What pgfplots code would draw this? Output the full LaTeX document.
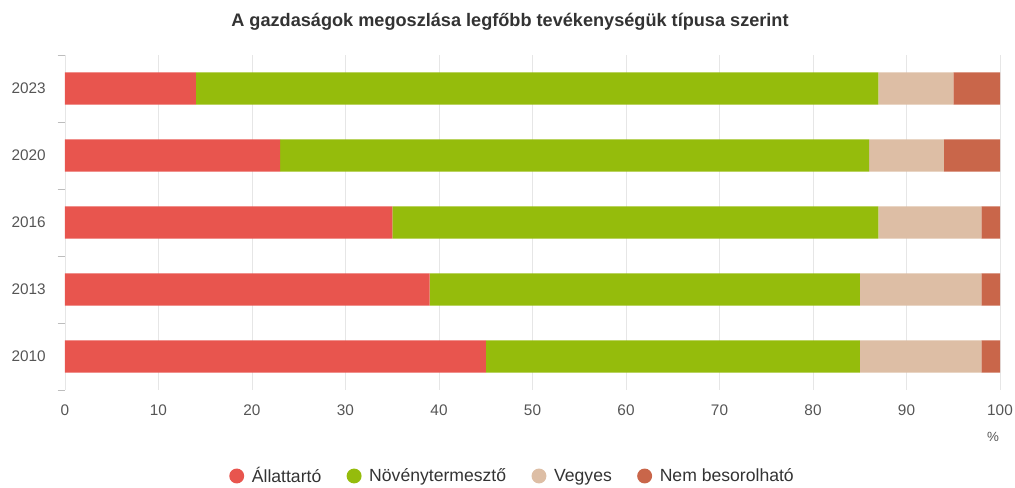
\documentclass[border=0pt]{standalone}
\usepackage{fontspec}
\setmainfont{Liberation Sans}
\usepackage{pgfplots}
\pgfplotsset{compat=1.18}
\definecolor{cA}{HTML}{E8554E}
\definecolor{cB}{HTML}{95BC0C}
\definecolor{cC}{HTML}{DDBEA5}
\definecolor{cD}{HTML}{C9664A}
\definecolor{gridc}{HTML}{E6E6E6}
\definecolor{txt}{HTML}{555555}
\definecolor{ttl}{HTML}{333333}
\begin{document}
\begin{tikzpicture}[x=1pt,y=1pt]
\path[use as bounding box] (-48.75,-72.75) rectangle (712.5,292.5);
\begin{axis}[
  at={(0,0)}, anchor=south west,
  scale only axis, width=701.25pt, height=251.25pt,
  xbar stacked, bar width=0.48,
  xmin=0, xmax=100, ymin=-0.5, ymax=4.5,
  xtick={0,10,...,100},
  ytick={0,...,4}, yticklabels={2010,2013,2016,2020,2023},
  minor ytick={-0.5,0.5,...,4.5},
  xmajorgrids, grid style={draw=gridc, line width=0.7pt},
  axis line style={draw=none},
  major tick length=0pt,
  minor tick length=5.5pt, tick align=outside,
  ytick pos=left, xtick pos=bottom,
  minor tick style={draw=gridc!60!gray, line width=0.6pt},
  /pgf/number format/assume math mode=true,
  ticklabel style={font=\fontsize{11.5}{13}\selectfont, text=txt},
  yticklabel style={xshift=-11pt},
  xticklabel style={yshift=-7.5pt},
  xlabel={\%},
  xlabel style={at={(0.9925,0)}, anchor=center, yshift=-35.25pt, font=\fontsize{10}{12}\selectfont, text=txt},
  legend columns=4,
  legend style={at={(0.479,-0.2567)}, anchor=center, draw=none, fill=none,
    font=\fontsize{13.2}{16}\selectfont, text=ttl,
    /tikz/every even column/.append style={column sep=17pt}},
  legend image code/.code={\fill[#1, draw=none] (0pt,0pt) circle (5.6pt); \path (9.35pt,0pt);},
]
\addplot[fill=cA, draw=none] coordinates {(45,0) (39,1) (35,2) (23,3) (14,4)};
\addplot[fill=cB, draw=none] coordinates {(40,0) (46,1) (52,2) (63,3) (73,4)};
\addplot[fill=cC, draw=none] coordinates {(13,0) (13,1) (11,2) (8,3) (8,4)};
\addplot[fill=cD, draw=none] coordinates {(2,0) (2,1) (2,2) (6,3) (5,4)};
\legend{Állattartó, Növénytermesztő, Vegyes, Nem besorolható}
\end{axis}
\node[font=\bfseries\fontsize{13.6}{16}\selectfont, text=ttl] at (333.75,276) {A gazdaságok megoszlása legfőbb tevékenységük típusa szerint};
\end{tikzpicture}
\end{document}
